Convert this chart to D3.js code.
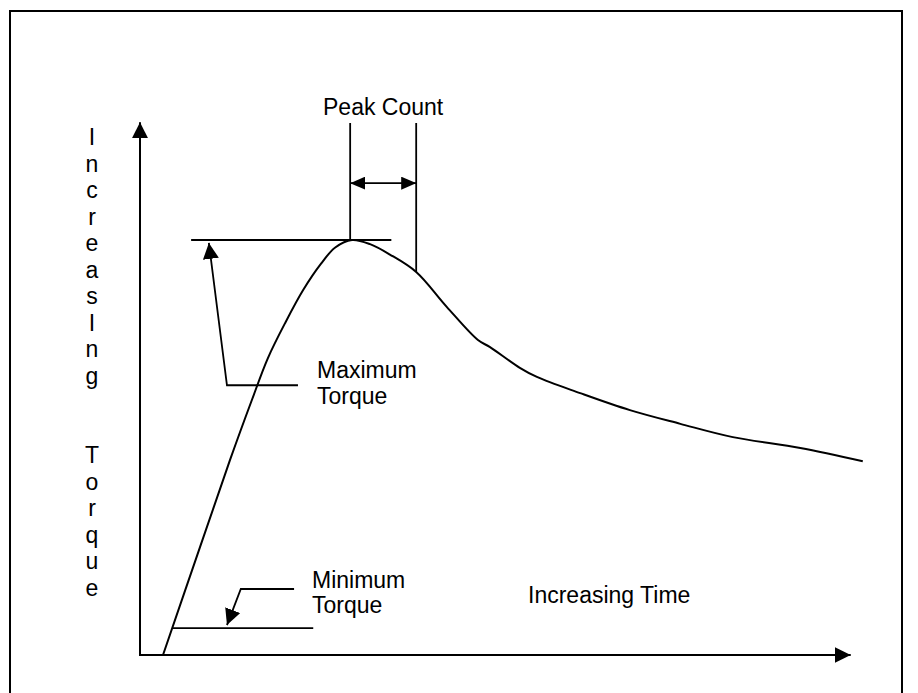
<!DOCTYPE html>
<html><head><meta charset="utf-8">
<script src="https://cdn.jsdelivr.net/npm/d3@7"></script>
<style>body{margin:0;background:#fff} text{font-family:Arial,"Liberation Sans",sans-serif;fill:#000}</style>
</head><body><svg id="c" width="918" height="693"></svg>
<script>
// Curve data (time, torque) in arbitrary units, peak torque = 100
const time   = [3.24, 8.45, 12.68, 15.77, 18.0, 20.5, 23.0, 25.5, 27.5, 29.86, 32.4, 35.2, 38.9, 43.2, 47.6, 49.3, 53.5, 55.9, 62.0, 69.0, 76.1, 83.5, 93.0, 101.8];
const torque = [0, 26.0, 47.0, 61.5, 71.5, 80.2, 88.0, 94.3, 98.2, 100, 99.0, 96.5, 92.3, 83.9, 75.9, 74.2, 69.2, 67.0, 63.1, 59.0, 55.7, 52.5, 49.9, 46.7];
// Annotation values
const peakTime = 29.6, peakEndTime = 38.9, peakTorque = 100;
const peakLineTop = 128.2, peakArrowLevel = 113.7;
const maxLineSpan = [7.2, 35.4];
const minTorque = 6.5, minLineSpan = [4.65, 24.4];
const maxLeader = [[22.25, 65], [12.25, 65], [9.7, 99.3]];
const minLeader = [[21.7, 15.9], [14.2, 15.9], [12.25, 7.2]];
const axisEnds = {t: 100.1, v: 128.4};
// Text
const yLabel = ["I","n","c","r","e","a","s","I","n","g","","","T","o","r","q","u","e"];
const xLabel = "Increasing Time";
const peakLabel = "Peak Count";
const maxLabel = ["Maximum", "Torque"];
const minLabel = ["Minimum", "Torque"];

const svg = d3.select("#c");
const x = d3.scaleLinear().domain([0, 100]).range([140, 850]);
const y = d3.scaleLinear().domain([0, 100]).range([655, 240]);

// border
svg.append("rect").attr("x", 10).attr("y", 11).attr("width", 892).attr("height", 700)
  .attr("fill", "none").attr("stroke", "#000").attr("stroke-width", 2);

const defs = svg.append("defs");
function marker(id, len, wid) {
  defs.append("marker").attr("id", id).attr("markerUnits", "userSpaceOnUse")
    .attr("viewBox", `0 0 ${len} ${wid}`).attr("refX", len).attr("refY", wid / 2)
    .attr("markerWidth", len).attr("markerHeight", wid).attr("orient", "auto-start-reverse")
    .append("path").attr("d", `M0,0L${len},${wid / 2}L0,${wid}Z`).attr("fill", "#000");
}
marker("axisArrow", 16, 16);
marker("smallArrow", 15, 13);

// axes
svg.append("line").attr("x1", x(0)).attr("y1", y(0)).attr("x2", x(0)).attr("y2", y(axisEnds.v))
  .attr("stroke", "#000").attr("stroke-width", 2).attr("marker-end", "url(#axisArrow)");
svg.append("line").attr("x1", x(0) - 1).attr("y1", y(0)).attr("x2", x(axisEnds.t)).attr("y2", y(0))
  .attr("stroke", "#000").attr("stroke-width", 2).attr("marker-end", "url(#axisArrow)");

// curve
const pts = time.map((t, i) => [t, torque[i]]);
svg.append("path").datum(pts)
  .attr("d", d3.line().x(d => x(d[0])).y(d => y(d[1])).curve(d3.curveCatmullRom.alpha(0.5)))
  .attr("fill", "none").attr("stroke", "#000").attr("stroke-width", 2);

const ln = (a, b, c, d) => svg.append("line").attr("x1", a).attr("y1", b).attr("x2", c).attr("y2", d)
  .attr("stroke", "#000").attr("stroke-width", 1.8);

// max torque line
ln(x(maxLineSpan[0]), y(peakTorque), x(maxLineSpan[1]), y(peakTorque));
// peak count verticals
ln(x(peakTime), y(peakLineTop), x(peakTime), y(peakTorque));
const endIdx = time.indexOf(peakEndTime);
ln(x(peakEndTime), y(peakLineTop), x(peakEndTime), y(torque[endIdx]));
ln(x(peakTime), y(peakArrowLevel), x(peakEndTime), y(peakArrowLevel))
  .attr("marker-start", "url(#smallArrow)").attr("marker-end", "url(#smallArrow)");
// min torque line
ln(x(minLineSpan[0]), y(minTorque), x(minLineSpan[1]), y(minTorque));

// leaders
const lead = d3.line().x(d => x(d[0])).y(d => y(d[1]));
svg.append("path").attr("d", lead(maxLeader)).attr("fill", "none").attr("stroke", "#000")
  .attr("stroke-width", 1.8).attr("marker-end", "url(#axisArrow)");
svg.append("path").attr("d", lead(minLeader)).attr("fill", "none").attr("stroke", "#000")
  .attr("stroke-width", 1.8).attr("marker-end", "url(#axisArrow)");

// texts
const fs = 23;
svg.append("text").attr("x", 323).attr("y", 115).attr("font-size", fs).text(peakLabel);
maxLabel.forEach((s, i) => svg.append("text").attr("x", 317).attr("y", 378 + i * 26).attr("font-size", fs).text(s));
minLabel.forEach((s, i) => svg.append("text").attr("x", 312).attr("y", 588 + i * 25).attr("font-size", fs).text(s));
svg.append("text").attr("x", 528).attr("y", 603).attr("font-size", fs).text(xLabel);
yLabel.forEach((s, i) => svg.append("text").attr("x", 92).attr("y", 145 + i * 26.5)
  .attr("text-anchor", "middle").attr("font-size", fs).text(s));
</script></body></html>
